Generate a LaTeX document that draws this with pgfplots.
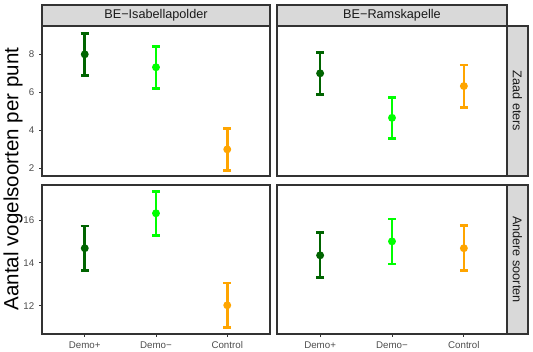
\documentclass[border=0pt]{standalone}
\usepackage{pgfplots}
\pgfplotsset{compat=1.18}
\usepackage{fontspec}
\setmainfont{Liberation Sans}
\definecolor{dg}{HTML}{006400}
\definecolor{lg}{HTML}{00FF00}
\definecolor{og}{HTML}{FFA500}
\definecolor{g20}{HTML}{333333}
\definecolor{g30}{HTML}{4D4D4D}
\definecolor{g85}{HTML}{D9D9D9}
\definecolor{g10}{HTML}{1A1A1A}
\pgfplotsset{
  panel/.style={scale only axis, anchor=south west, xmin=0.4, xmax=3.6,
    axis line style={g20, line width=0.8pt},
    tick style={g20, line width=0.6pt}, tick align=outside, major tick length=2.25pt,
    ticklabel style={font=\fontsize{7.3}{8}\selectfont, text=g30},
    /pgf/number format/assume math mode=true,
    xtick pos=lower, ytick pos=left, clip=false},
  eb/.style={only marks, mark=*, mark size=1.9pt, line width=2pt,
    error bars/.cd, y dir=both, y explicit,
    error bar style={line width=2pt},
    error mark=-,
    error mark options={rotate=90, mark size=3pt, line width=2pt}},
}
\begin{document}
\begin{tikzpicture}
\useasboundingbox (0,0) rectangle (399.75pt,-264pt);
% top-left
\begin{axis}[panel, at={(31.5pt,-132pt)}, width=171pt, height=112.5pt,
  ymin=1.6, ymax=9.49, ytick={2,4,6,8}, xtick=\empty]
\addplot[color=dg, eb] coordinates {(1,8.0) +- (0,1.1)};
\addplot[color=lg, eb] coordinates {(2,7.32) +- (0,1.1)};
\addplot[color=og, eb] coordinates {(3,3.0) +- (0,1.1)};
\end{axis}
% top-right
\begin{axis}[panel, at={(207.75pt,-132pt)}, width=172.5pt, height=112.5pt,
  ymin=1.6, ymax=9.49, ytick=\empty, xtick=\empty]
\addplot[color=dg, eb] coordinates {(1,7.0) +- (0,1.1)};
\addplot[color=lg, eb] coordinates {(2,4.66) +- (0,1.08)};
\addplot[color=og, eb] coordinates {(3,6.33) +- (0,1.11)};
\end{axis}
% bottom-left
\begin{axis}[panel, at={(31.5pt,-250.5pt)}, width=171pt, height=111.75pt,
  ymin=10.68, ymax=17.63, ytick={12,14,16}, xtick={1,2,3},
  xticklabels={Demo+, Demo−, Control}]
\addplot[color=dg, eb] coordinates {(1,14.68) +- (0,1.04)};
\addplot[color=lg, eb] coordinates {(2,16.31) +- (0,1.03)};
\addplot[color=og, eb] coordinates {(3,12.02) +- (0,1.04)};
\end{axis}
% bottom-right
\begin{axis}[panel, at={(207.75pt,-250.5pt)}, width=172.5pt, height=111.75pt,
  ymin=10.68, ymax=17.63, ytick=\empty, xtick={1,2,3},
  xticklabels={Demo+, Demo−, Control}]
\addplot[color=dg, eb] coordinates {(1,14.35) +- (0,1.05)};
\addplot[color=lg, eb] coordinates {(2,15.0) +- (0,1.05)};
\addplot[color=og, eb] coordinates {(3,14.68) +- (0,1.05)};
\end{axis}
% strips
\begin{scope}[line width=0.8pt]
\draw[g20, fill=g85] (31.5pt,-3.75pt) rectangle (202.5pt,-19.5pt);
\draw[g20, fill=g85] (207.75pt,-3.75pt) rectangle (380.25pt,-19.5pt);
\draw[g20, fill=g85] (380.25pt,-19.5pt) rectangle (396pt,-132pt);
\draw[g20, fill=g85] (380.25pt,-138.75pt) rectangle (396pt,-250.5pt);
\end{scope}
\node[text=g10, font=\fontsize{9.5}{11}\selectfont] at (117pt,-11.6pt) {BE−Isabellapolder};
\node[text=g10, font=\fontsize{9.5}{11}\selectfont] at (294pt,-11.6pt) {BE−Ramskapelle};
\node[text=g10, font=\fontsize{9.5}{11}\selectfont, rotate=-90] at (388.1pt,-75.75pt) {Zaad eters};
\node[text=g10, font=\fontsize{9.5}{11}\selectfont, rotate=-90] at (388.1pt,-194.6pt) {Andere soorten};
\node[font=\fontsize{15.4}{17}\selectfont, rotate=90] at (9.75pt,-134.25pt) {Aantal vogelsoorten per punt};
\end{tikzpicture}
\end{document}
